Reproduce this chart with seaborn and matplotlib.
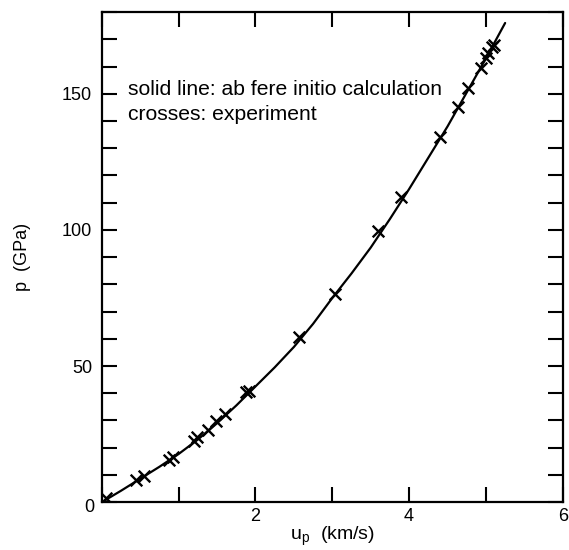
import matplotlib
matplotlib.use("Agg")
import matplotlib.pyplot as plt
import seaborn as sns
import pandas as pd
from matplotlib.ticker import MultipleLocator

# ==========================================
# DATA
# ==========================================
# solid line: ab fere initio calculation
up_calc = [0.0, 0.25, 0.5, 0.75, 1.0, 1.25, 1.5, 1.75, 2.0, 2.25, 2.5, 2.75,
           3.0, 3.25, 3.5, 3.75, 4.0, 4.25, 4.5, 4.75, 5.0, 5.25]
p_calc = [0.0, 4.2, 8.6, 13.0, 17.7, 23.0, 29.0, 35.5, 42.5, 49.5, 57.0, 65.5,
          75.0, 84.0, 93.5, 104.0, 115.0, 126.5, 138.0, 150.5, 163.0, 176.0]

# crosses: experiment
up_exp = [0.05, 0.45, 0.55, 0.87, 0.93, 1.20, 1.24, 1.38, 1.49, 1.60, 1.88, 1.92,
          2.57, 3.03, 3.60, 3.90, 4.40, 4.64, 4.77, 4.93, 5.00, 5.03, 5.08, 5.11]
p_exp = [1.5, 8.0, 9.6, 15.3, 16.5, 22.6, 23.8, 26.5, 29.9, 32.4, 40.3, 41.0,
         60.6, 76.5, 99.5, 112.0, 134.0, 145.0, 152.0, 159.5, 163.0, 165.0, 167.0, 168.0]

note_lines = ["solid line: ab fere initio calculation", "crosses: experiment"]
# ==========================================

sns.set_style("ticks")
plt.rcParams['font.family'] = ['Liberation Sans', 'DejaVu Sans']
plt.rcParams['mathtext.fontset'] = 'custom'
plt.rcParams['mathtext.rm'] = 'Liberation Sans'
for key in ['text.color', 'axes.labelcolor', 'xtick.color', 'ytick.color', 'axes.edgecolor']:
    plt.rcParams[key] = 'black'

calc = pd.DataFrame({'up': up_calc, 'p': p_calc})
exp = pd.DataFrame({'up': up_exp, 'p': p_exp})

fig = plt.figure(figsize=(5.69, 5.5), dpi=100)
ax = fig.add_axes([0.179, 0.087, 0.810, 0.891])

sns.lineplot(data=calc, x='up', y='p', color='black', linewidth=1.6, ax=ax)
sns.scatterplot(data=exp, x='up', y='p', marker='x', s=70, color='black',
                linewidth=1.7, ax=ax, zorder=3)

ax.set_xlim(0, 6)
ax.set_ylim(0, 180)
ax.xaxis.set_major_locator(MultipleLocator(2))
ax.xaxis.set_minor_locator(MultipleLocator(1))
ax.yaxis.set_major_locator(MultipleLocator(50))
ax.yaxis.set_minor_locator(MultipleLocator(10))

ax.tick_params(which='both', direction='in', top=True, right=True,
               length=11, width=1.5, labelsize=13)
ax.tick_params(axis='y', pad=7)
ax.tick_params(axis='x', pad=4.5)
ax.set_xticks([2, 4, 6])
ax.set_yticks([50, 100, 150])
for s in ax.spines.values():
    s.set_linewidth(1.6)

# shared "0" at the corner
ax.text(-0.017, -0.01, "0", transform=ax.transAxes, ha='right', va='center',
        fontsize=13)

ax.set_xlabel(r"u$_\mathregular{p}$  (km/s)", fontsize=14)
ax.xaxis.set_label_coords(0.5, -0.045)
ax.set_ylabel("p  (GPa)", fontsize=13, labelpad=22)

ax.text(0.056, 0.843, note_lines[0], transform=ax.transAxes, fontsize=15.2,
        va='center', ha='left')
ax.text(0.056, 0.792, note_lines[1], transform=ax.transAxes, fontsize=15.2,
        va='center', ha='left')

fig.savefig("out.png", dpi=100)
